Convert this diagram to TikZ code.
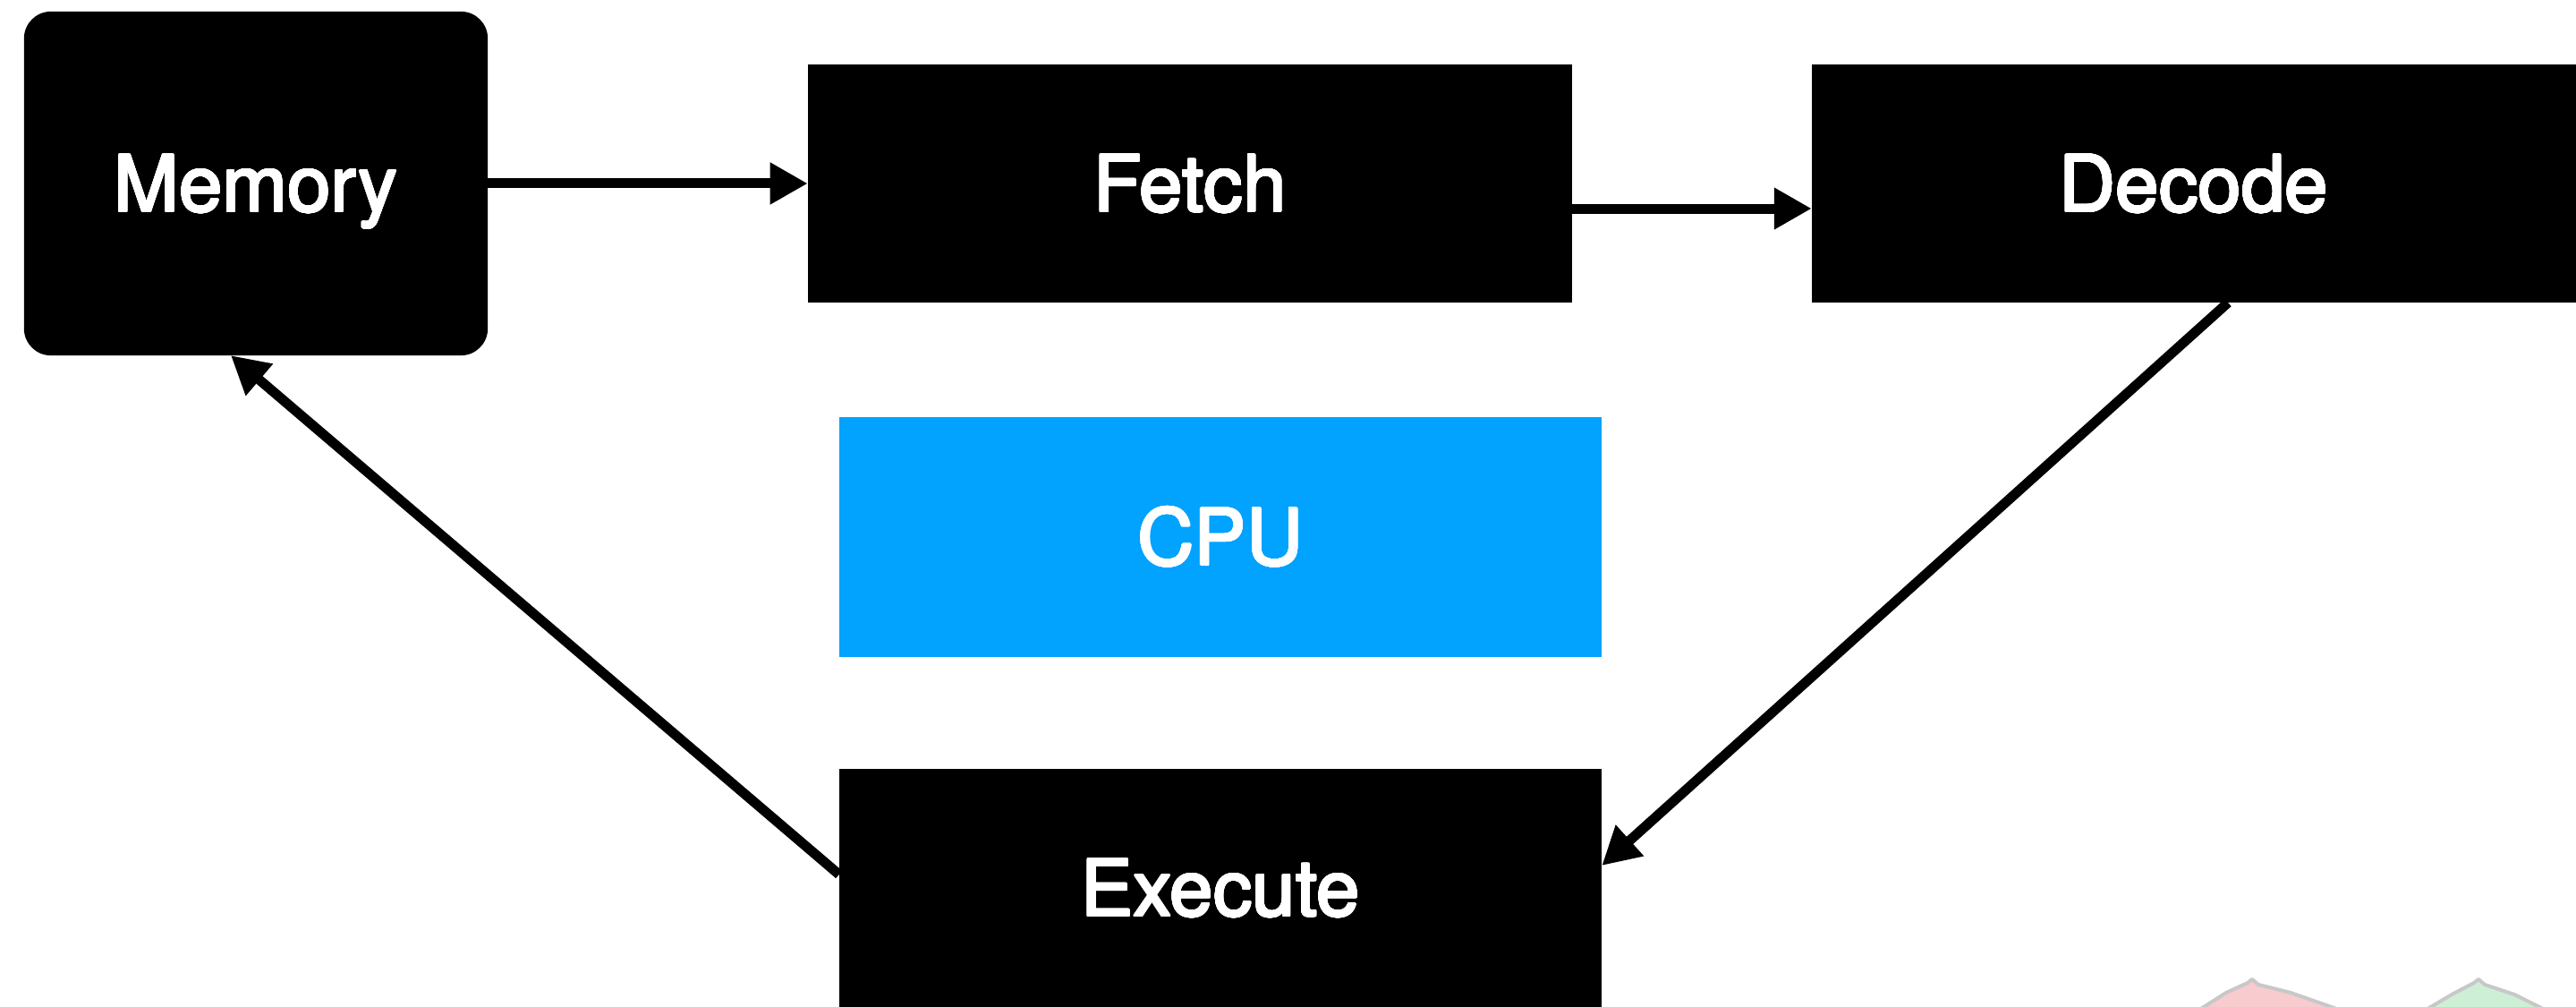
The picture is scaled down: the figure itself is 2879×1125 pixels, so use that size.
\documentclass[tikz,border=0pt]{standalone}
\usepackage{fontspec}
\setmainfont{TeX Gyre Heros}
\usepackage[copies]{contour}
\contourlength{0.3pt}
\contournumber{24}
\usetikzlibrary{arrows.meta}
\definecolor{cpublue}{RGB}{2,162,255}
\definecolor{blushpink}{RGB}{248,203,206}
\definecolor{mintgreen}{RGB}{205,239,214}
\definecolor{edgegray}{RGB}{200,200,200}
% white label text with a thin white outline for a heavier stroke
\newcommand{\stagelabel}[1]{\contour{white}{#1}}
\tikzset{
  stage/.style={fill=black, text=white, inner sep=0pt, outer sep=0pt,
    text height=18pt, text depth=0pt,
    minimum width=8.54cm, minimum height=2.66cm, font=\fontsize{24.8}{30}\selectfont},
  flow/.style={line width=0.11cm, -{Triangle[length=0.42cm, width=0.44cm]}},
  blob/.style={draw=edgegray, line width=0.04cm, line join=round}
}
\begin{document}
\begin{tikzpicture}[x=0.01cm, y=-0.01cm]
  \useasboundingbox (0,0) rectangle (2879,1125);
  \fill[white] (0,0) rectangle (2879,1125);

  % decorative shapes peeking in at the lower edge
  \begin{scope}
    \clip (0,0) rectangle (2879,1125);
    \filldraw[blob, fill=blushpink] (2455,1130) -- (2488,1109) -- (2512,1098) -- (2517,1094)
      -- (2524,1100) -- (2560,1109) -- (2620,1130);
    \filldraw[blob, fill=mintgreen] (2708,1130) -- (2742,1110) -- (2765,1098) -- (2770,1094)
      -- (2777,1100) -- (2810,1111) -- (2848,1130);
  \end{scope}

  % pipeline stages
  \node[stage, minimum width=5.18cm, minimum height=3.84cm, rounded corners=0.3cm]
    (mem) at (286,205) {\stagelabel{Memory}};
  \node[stage] (fetch) at (1330,205) {\stagelabel{Fetch}};
  \node[stage] (decode) at (2452,205) {\stagelabel{Decode}};
  \node[stage, fill=cpublue, minimum width=8.52cm, minimum height=2.67cm]
    (cpu) at (1364,600) {\stagelabel{CPU}};
  \node[stage, minimum width=8.52cm] (exec) at (1364,992) {\stagelabel{Execute}};

  % data flow between stages
  \draw[flow] (mem.east) -- (fetch.west);
  \draw[flow] ([yshift=-0.28cm]fetch.east) -- ([yshift=-0.28cm]decode.west);
  \draw[flow] ([xshift=0.38cm]decode.south) -- ([yshift=0.25cm]exec.east);
  \draw[flow] ([yshift=0.15cm]exec.west) -- ([xshift=-0.28cm]mem.south);
\end{tikzpicture}
\end{document}
